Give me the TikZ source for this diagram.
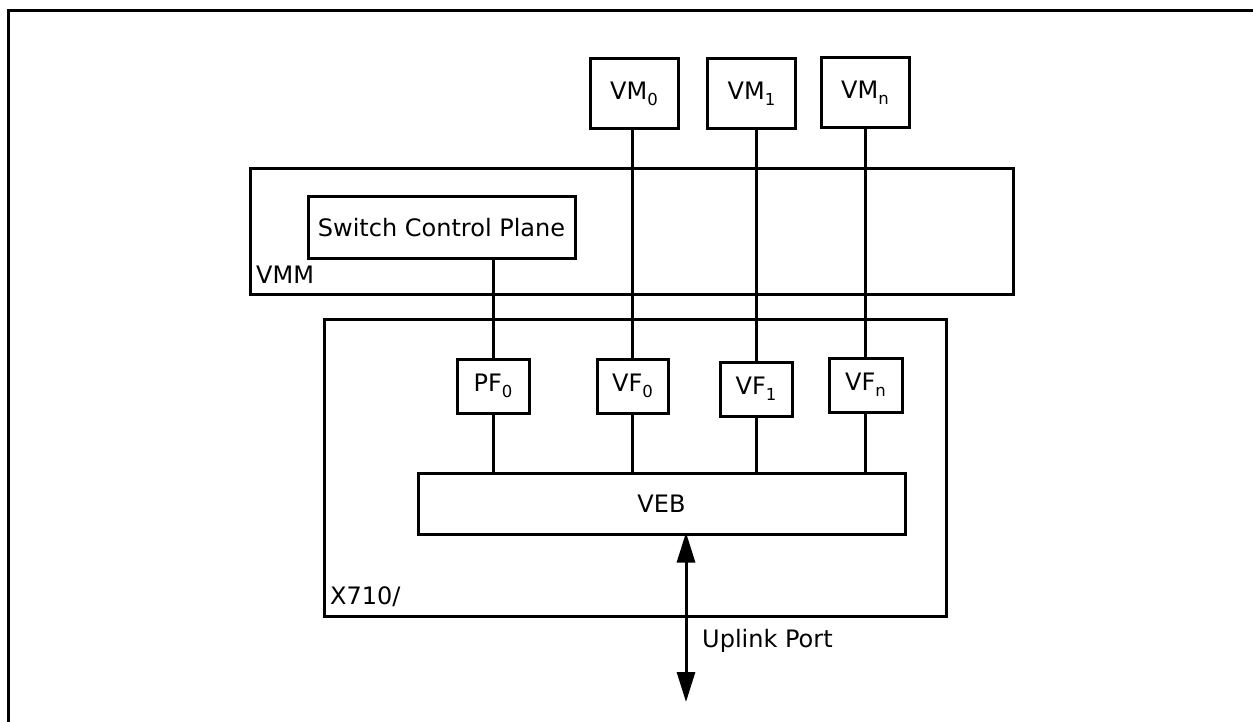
\documentclass[tikz,border=0pt]{standalone}
\usepackage{fontspec}
\setmainfont{DejaVu Sans}
\usetikzlibrary{arrows.meta}
\newcommand{\sbs}[1]{\raisebox{-6.5pt}{\fontsize{16.5}{16.5}\selectfont #1}}
\begin{document}
\begin{tikzpicture}[x=1pt,y=-1pt,
  box/.style={draw, line width=3pt, inner sep=0pt, font=\fontsize{24}{28}\selectfont},
  lbl/.style={inner sep=0pt, anchor=base west, font=\fontsize{24}{28}\selectfont},
  conn/.style={line width=3pt}]
\useasboundingbox (0,0) rectangle (1253,722);
% outer frame (open at right and bottom)
\draw[line width=3pt] (8,722) -- (8,11) -- (1253,11);
% containers
\node[box, minimum width=763pt, minimum height=125pt] (vmm) at (631.5,231.5) {};
\node[lbl] (vmmlbl) at (256,283) {VMM};
\node[box, minimum width=622pt, minimum height=297pt] (x710) at (635,467.5) {};
\node[lbl] (x710lbl) at (330,604) {X710/};
% VMs
\node[box, minimum width=88pt, minimum height=70pt] (vm0) at (634,94) {VM\sbs{0}};
\node[box, minimum width=88pt, minimum height=70pt] (vm1) at (751.5,94) {VM\sbs{1}};
\node[box, minimum width=88pt, minimum height=70pt] (vmn) at (865,93) {VM\sbs{n}};
% switch control plane
\node[box, minimum width=267pt, minimum height=61pt] (scp) at (441.5,227.5) {Switch Control Plane};
% functions
\node[box, minimum width=72pt, minimum height=54pt] (pf0) at (493,386) {PF\sbs{0}};
\node[box, minimum width=71pt, minimum height=54pt] (vf0) at (632.5,386) {VF\sbs{0}};
\node[box, minimum width=72pt, minimum height=54pt] (vf1) at (756,389) {VF\sbs{1}};
\node[box, minimum width=73pt, minimum height=54pt] (vfn) at (865.5,385) {VF\sbs{n}};
% VEB
\node[box, minimum width=487pt, minimum height=61pt] (veb) at (661.5,503.5) {VEB};
% connectors
\draw[conn] (pf0.north |- scp.south) -- (pf0.north);
\draw[conn] (vf0.north |- vm0.south) -- (vf0.north);
\draw[conn] (vf1.north |- vm1.south) -- (vf1.north);
\draw[conn] (vfn.north |- vmn.south) -- (vfn.north);
\draw[conn] (pf0.south) -- (pf0.south |- veb.north);
\draw[conn] (vf0.south) -- (vf0.south |- veb.north);
\draw[conn] (vf1.south) -- (vf1.south |- veb.north);
\draw[conn] (vfn.south) -- (vfn.south |- veb.north);
% uplink
\coordinate (up) at (686,702);
\draw[conn, {Triangle[width=18pt,length=30pt]}-{Triangle[width=18pt,length=30pt]}]
  ([yshift=3pt]up |- veb.south) -- (up);
\node[lbl] (uplbl) at (702,647) {Uplink Port};
\end{tikzpicture}
\end{document}
